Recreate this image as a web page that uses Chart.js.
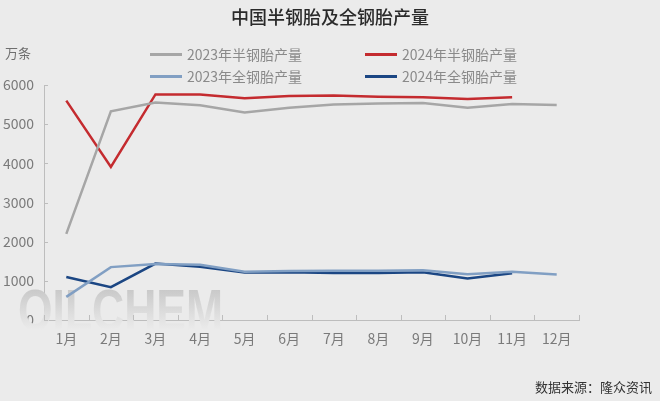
<!DOCTYPE html>
<html><head><meta charset="utf-8">
<script src="https://cdn.jsdelivr.net/npm/chart.js@4/dist/chart.umd.min.js"></script>
<style>
html,body{margin:0;padding:0;background:#ebebeb;width:660px;height:401px;overflow:hidden;font-family:"Noto Sans CJK SC","Noto Sans",sans-serif;}
#wrap{position:relative;width:660px;height:401px;}
canvas{position:absolute;left:0;top:0;}
.t{position:absolute;white-space:nowrap;}
#title{left:0;width:660px;top:3px;text-align:center;font-size:18px;font-weight:500;color:#2a2a2a;}
#unit{left:5px;top:43px;font-size:13px;color:#6f6f6f;}
#src{right:8px;top:377px;font-size:13px;color:#333;}
.lg{position:absolute;font-size:14px;color:#8a8a8a;line-height:18px;}
.sw{position:absolute;height:3px;width:32px;}
</style></head>
<body><div id="wrap">
<canvas id="c" width="660" height="401"></canvas>
<div class="t" id="title">中国半钢胎及全钢胎产量</div>
<div class="t" id="unit">万条</div>
<div id="legend"></div>
<div class="t" id="src">数据来源：隆众资讯</div>
</div>
<script>
const categories = ['1月','2月','3月','4月','5月','6月','7月','8月','9月','10月','11月','12月'];
const semi2023 = [2200, 5330, 5550, 5480, 5300, 5420, 5500, 5530, 5540, 5420, 5515, 5490];
const semi2024 = [5600, 3910, 5760, 5760, 5660, 5720, 5730, 5700, 5690, 5640, 5690, null];
const all2023 = [590, 1350, 1430, 1410, 1230, 1250, 1260, 1260, 1270, 1170, 1230, 1160];
const all2024 = [1100, 840, 1440, 1360, 1210, 1220, 1200, 1200, 1220, 1060, 1195, null];
const seriesNames = ['2023年半钢胎产量','2024年半钢胎产量','2023年全钢胎产量','2024年全钢胎产量'];
const seriesColors = ['#a6a6a6','#c42b2f','#819fc3','#1b4683'];
const legendPos = [[150,45],[365,45],[150,67],[365,67]];

// legend (HTML text)
const lg = document.getElementById('legend');
seriesNames.forEach((n,i)=>{
  const [x,y] = legendPos[i];
  const sw = document.createElement('div'); sw.className='sw';
  sw.style.left = x+'px'; sw.style.top = (y+8)+'px'; sw.style.background = seriesColors[i];
  lg.appendChild(sw);
  const tx = document.createElement('div'); tx.className='lg';
  tx.style.left = (x+37)+'px'; tx.style.top = y+'px'; tx.textContent = n;
  lg.appendChild(tx);
});

const watermark = {
  id:'wm',
  beforeDatasetsDraw(chart){
    const ctx = chart.ctx;
    ctx.save();
    const g = ctx.createLinearGradient(0,286,0,332);
    g.addColorStop(0,'#c6c6c6'); g.addColorStop(1,'#ededed');
    ctx.fillStyle = g;
    ctx.font = 'bold 58px "Liberation Sans", sans-serif';
    ctx.textBaseline = 'alphabetic';
    ctx.fillText('OILCHEM', 18, 330, 205);
    ctx.restore();
  }
};
const innerTicks = {
  id:'innerTicks',
  afterDraw(chart){
    const ctx = chart.ctx, x = chart.scales.x, y = chart.scales.y;
    ctx.save();
    ctx.strokeStyle = '#bdbdbd'; ctx.lineWidth = 1;
    ctx.beginPath();
    for(let i=0;i<=categories.length;i++){
      const px = Math.round(x.left + (x.right-x.left)*i/categories.length)+0.5;
      ctx.moveTo(px, y.bottom); ctx.lineTo(px, y.bottom-5);
    }
    y.ticks.forEach(t=>{
      const py = Math.round(y.getPixelForValue(t.value))+0.5;
      ctx.moveTo(x.left, py); ctx.lineTo(x.left+4, py);
    });
    ctx.stroke();
    ctx.restore();
  }
};

const mk = (i,data)=>({label:seriesNames[i],data,borderColor:seriesColors[i],backgroundColor:seriesColors[i],borderWidth:2.5,pointRadius:0,tension:0,spanGaps:false});

new Chart(document.getElementById('c'),{
  type:'line',
  data:{labels:categories,datasets:[mk(0,semi2023),mk(1,semi2024),mk(2,all2023),mk(3,all2024)]},
  options:{
    responsive:false,animation:false,
    layout:{padding:{top:85,right:81,left:0,bottom:0}},
    plugins:{legend:{display:false},tooltip:{enabled:false},title:{display:false}},
    scales:{
      x:{offset:true,
         grid:{display:false,drawTicks:false},
         border:{display:true,color:'#bdbdbd',width:1},
         ticks:{color:'#7a7a7a',font:{family:'"Noto Sans CJK SC"',size:14},padding:10,maxRotation:0,autoSkip:false},
         afterFit(s){s.height=81;}},
      y:{min:0,max:6000,
         grid:{display:false,drawTicks:false},
         border:{display:true,color:'#bdbdbd',width:1},
         ticks:{stepSize:1000,color:'#7a7a7a',font:{family:'"Noto Sans CJK SC"',size:14},padding:10,
                callback:(v)=>String(v)},
         afterFit(s){s.width=44;}}
    }
  },
  plugins:[watermark,innerTicks]
});
</script>
</body></html>
